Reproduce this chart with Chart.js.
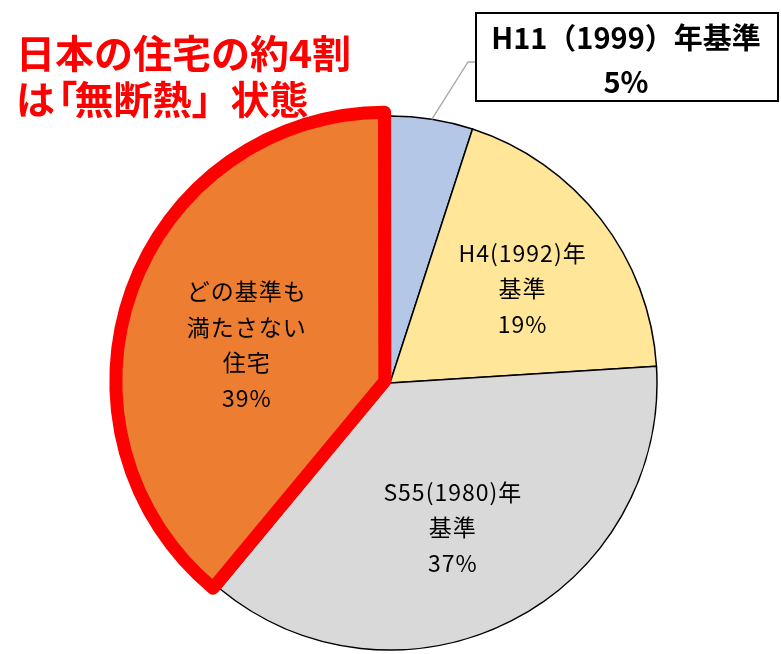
<!DOCTYPE html>
<html>
<head>
<meta charset="utf-8">
<script src="https://cdn.jsdelivr.net/npm/chart.js@4"></script>
<style>
  html, body { margin: 0; padding: 0; background: #fff; }
  #wrap { width: 781px; height: 654px; }
</style>
</head>
<body>
<div id="wrap"><canvas id="pie"></canvas></div>
<script>
// data
var categories = ["H11(1999)年基準", "H4(1992)年基準", "S55(1980)年基準", "どの基準も満たさない住宅"];
var shares = [5, 19, 37, 39];
var sliceLines = [
	null,
	["H4(1992)年", "基準"],
	["S55(1980)年", "基準"],
	["どの基準も", "満たさない", "住宅"]
];
var calloutLines = ["H11（1999）年基準"];
var titleLines = ["日本の住宅の約4割", "は「無断熱」状態"];

var color = {
	blue: "#B4C7E7"
  , yellow: "#FFE699"
  , gray: "#D9D9D9"
  , orange: "#ED7D31"
  , red: "#FF0000"
};

var jp = "'Noto Sans CJK JP', 'Noto Sans', sans-serif";

// label placement inside slices (fraction of radius, angle nudge in degrees)
var labelRadius = [0, 0.61, 0.59, 0.555];
var labelNudge = [0, 2.3, 3.5, -4.9];

// draw a line of text, squeezing the opening bracket to half width
function drawTitleLine(ctx, text, x, y) {
	for (var i = 0; i < text.length; i++) {
		var ch = text[i]
		  , w = ctx.measureText(ch).width;
		if (ch === "「") {
			ctx.fillText(ch, x - w * 0.42, y);
			x += w * 0.5;
		} else {
			ctx.fillText(ch, x, y);
			x += w;
		}
	}
}

var labelPlugin = {
	id: "sliceLabels",
	afterDatasetsDraw: function(chart) {
		var ctx = chart.ctx
		  , arcs = chart.getDatasetMeta(0).data;

		ctx.save();
		ctx.textAlign = "center";
		ctx.textBaseline = "middle";
		ctx.fillStyle = "#000";
		ctx.font = "23px " + jp;
		ctx.letterSpacing = "1px";

		arcs.forEach(function(arc, i) {
			if (!sliceLines[i]) return;
			var p = arc.getProps(["x", "y", "startAngle", "endAngle", "outerRadius"], true);
			var mid = (p.startAngle + p.endAngle) / 2 + labelNudge[i] * Math.PI / 180;
			var r = p.outerRadius * labelRadius[i];
			var cx = p.x + Math.cos(mid) * r
			  , cy = p.y + Math.sin(mid) * r;
			var lines = sliceLines[i].concat([shares[i] + "%"]);
			var lh = 35.5;
			lines.forEach(function(t, k) {
				ctx.fillText(t, cx, cy + (k - (lines.length - 1) / 2) * lh);
			});
		});
		ctx.letterSpacing = "0px";

		// callout for the small slice
		var a = arcs[0].getProps(["x", "y", "startAngle", "endAngle", "outerRadius"], true);
		var am = (a.startAngle + a.endAngle) / 2;
		var ex = a.x + Math.cos(am) * a.outerRadius
		  , ey = a.y + Math.sin(am) * a.outerRadius;
		ctx.strokeStyle = "#A6A6A6";
		ctx.lineWidth = 1.3;
		ctx.beginPath();
		ctx.moveTo(ex, ey);
		ctx.lineTo(468, 62);
		ctx.lineTo(476, 62);
		ctx.stroke();

		ctx.fillStyle = "#fff";
		ctx.fillRect(476, 13, 302, 88);
		ctx.strokeStyle = "#000";
		ctx.lineWidth = 2;
		ctx.strokeRect(476, 13, 302, 88);

		ctx.fillStyle = "#000";
		ctx.font = "bold 29px " + jp;
		ctx.fillText(calloutLines[0], 626, 38);
		ctx.fillText(shares[0] + "%", 626, 82);

		// heading
		ctx.textAlign = "left";
		ctx.fillStyle = color.red;
		ctx.font = "bold 39px " + jp;
		drawTitleLine(ctx, titleLines[0], 16, 53);
		drawTitleLine(ctx, titleLines[1], 16, 99);
		ctx.restore();
	}
};

var ctx = document.getElementById("pie").getContext("2d");
var pie = new Chart(ctx, {
	type: "pie",
	data: {
		labels: categories,
		datasets: [{
			data: shares,
			backgroundColor: [color.blue, color.yellow, color.gray, color.orange],
			borderColor: ["#000", "#000", "#000", color.red],
			borderWidth: [1.5, 1.5, 1.5, 13],
			borderJoinStyle: "round",
			offset: [0, 0, 0, 22],
			clip: false
		}]
	},
	options: {
		responsive: true,
		maintainAspectRatio: false,
		animation: false,
		radius: 267,
		layout: { padding: { top: 112, bottom: 0, left: 0, right: 1 } },
		plugins: {
			legend: { display: false },
			tooltip: { enabled: false }
		}
	},
	plugins: [labelPlugin]
});
</script>
</body>
</html>
